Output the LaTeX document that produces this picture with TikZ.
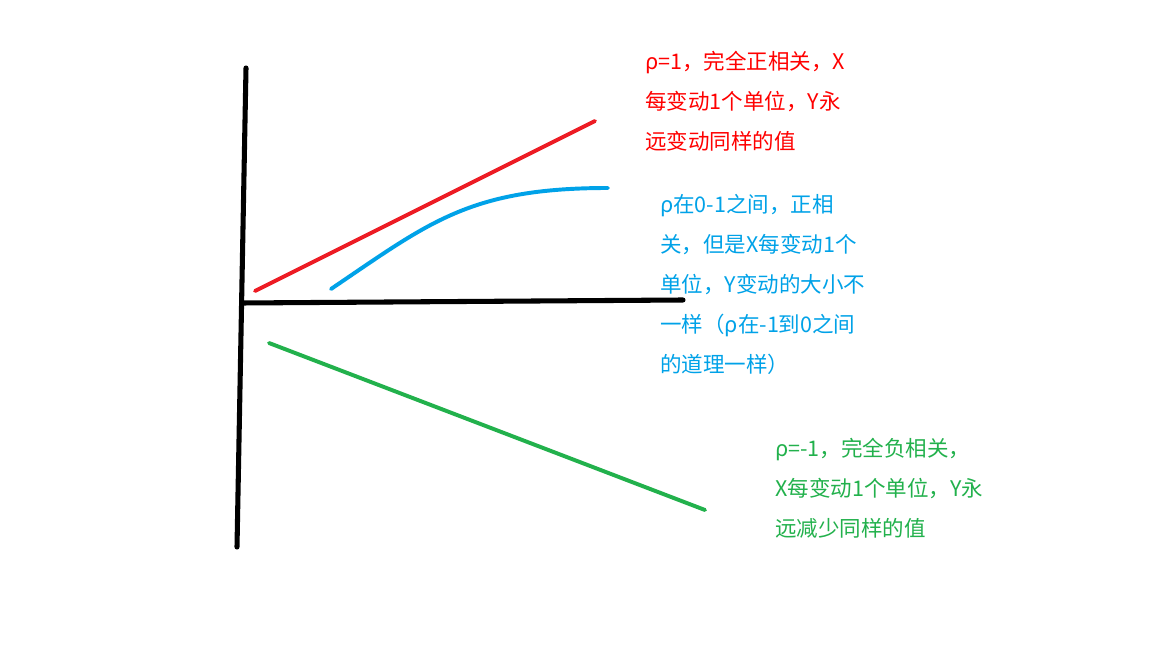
\documentclass[tikz,border=0pt]{standalone}
\usepackage{fontspec}
\setmainfont{Noto Sans CJK SC}
\usepackage{tikz}
\definecolor{pred}{RGB}{237,28,36}
\definecolor{pblue}{RGB}{0,162,232}
\definecolor{pgreen}{RGB}{34,177,76}
\begin{document}
\begin{tikzpicture}[
    x=0.025cm, y=-0.025cm,
    axis/.style={draw,black,line width=3.6pt,line cap=round},
    trend/.style={draw,line width=2.8pt,line cap=round},
    note/.style={anchor=north west,inner sep=0pt,align=left,
        font=\fontsize{15.3}{28.5}\selectfont}
]
\useasboundingbox[fill=white] (0,0) rectangle (1152,648);

\coordinate (ytop) at (246,68);
\coordinate (ybot) at (237,547);
\coordinate (xleft) at (242,303);
\coordinate (xright) at (683,300);
\draw[axis] (ytop) -- (ybot);
\draw[axis] (xleft) -- (xright);

\coordinate (r0) at (255,291);
\coordinate (r1) at (595,121);
\coordinate (b0) at (331,289);
\coordinate (b1) at (608,188);
\coordinate (g0) at (269,343);
\coordinate (g1) at (705,510);
\draw[trend,pred] (r0) -- (r1);
\draw[trend,pblue] (b0) .. controls (430,222) and (470,188) .. (b1);
\draw[trend,pgreen] (g0) -- (g1);

\node[note,text=red] (pos) at (645,51)
    {ρ=1，完全正相关，X\\每变动1个单位，Y永\\远变动同样的值};
\node[note,text=pblue] (part) at (660,194)
    {ρ在0-1之间，正相\\关，但是X每变动1个\\单位，Y变动的大小不\\一样（ρ在-1到0之间\\的道理一样）};
\node[note,text=pgreen] (neg) at (775,438)
    {ρ=-1，完全负相关，\\X每变动1个单位，Y永\\远减少同样的值};
\end{tikzpicture}
\end{document}
